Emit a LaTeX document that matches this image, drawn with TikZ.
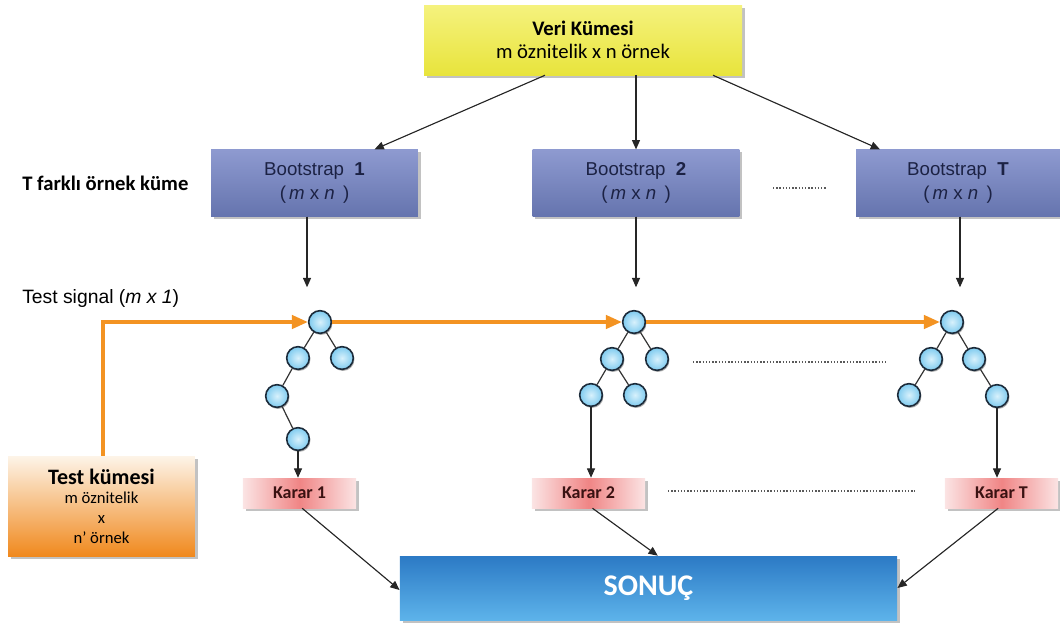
\documentclass[tikz,border=0pt]{standalone}
\usepackage{fontspec}
\setmainfont{Carlito}
\newfontfamily\arialf{Liberation Sans}
\usetikzlibrary{arrows.meta,shadows}
\definecolor{veritop}{HTML}{F5F27E}
\definecolor{veribot}{HTML}{E8E43C}
\definecolor{bstop}{HTML}{8E9AD0}
\definecolor{bsbot}{HTML}{6574AE}
\definecolor{bstext}{HTML}{1C2244}
\definecolor{kararside}{HTML}{FBE4E4}
\definecolor{kararmid}{HTML}{F08585}
\definecolor{karartext}{HTML}{3A1212}
\definecolor{testtop}{HTML}{FDF4E8}
\definecolor{testbot}{HTML}{F0891E}
\definecolor{sontop}{HTML}{2C7AC5}
\definecolor{sonbot}{HTML}{5DB3EA}
\definecolor{orangeline}{HTML}{F39322}
\definecolor{ballfill}{HTML}{7FCBEF}
\definecolor{ballin}{HTML}{D8F1FC}
\definecolor{ballline}{HTML}{1C2B3A}
\begin{document}
\begin{tikzpicture}[x=0.75pt,y=-0.75pt,
  box/.style={inner sep=0pt, align=center,
    drop shadow={shadow xshift=2pt, shadow yshift=-2pt, fill=black!40, opacity=0.6}},
  veribox/.style={box, top color=veritop, bottom color=veribot,
    minimum width=238.5pt, minimum height=52.5pt,
    font=\fontsize{15.5}{17}\selectfont},
  bsbox/.style={box, top color=bstop, bottom color=bsbot, text=bstext,
    minimum width=155pt, minimum height=50pt,
    font=\arialf\fontsize{14}{17.5}\selectfont},
  kararbox/.style={box, left color=kararside, right color=kararside, middle color=kararmid,
    text=karartext, minimum width=85pt, minimum height=22.5pt,
    font=\fontsize{13.5}{15}\selectfont\bfseries},
  testbox/.style={box, top color=testtop, bottom color=testbot,
    minimum width=140pt, minimum height=75pt,
    font=\fontsize{12.5}{14.8}\selectfont},
  sonbox/.style={box, top color=sontop, bottom color=sonbot, text=white,
    minimum width=373pt, minimum height=48pt,
    font=\fontsize{22.5}{24}\selectfont\bfseries},
  ball/.style={circle, minimum size=17pt, inner sep=0pt, draw=ballline, line width=1.2pt,
    inner color=ballin, outer color=ballfill,
    drop shadow={shadow xshift=0.8pt, shadow yshift=-1.2pt, fill=black!70, opacity=0.45}},
  tedge/.style={line width=0.9pt, draw=black!80},
  arr/.style={-{Triangle[length=7pt,width=6pt]}, line width=0.85pt, draw=black!85, fill=black!85},
  oarr/.style={-{Triangle[length=12pt,width=10pt]}, line width=2.6pt, draw=orangeline},
  dots/.style={line width=1.1pt, draw=black!65, dash pattern=on 1.1pt off 1.3pt},
  lbl/.style={anchor=west, inner sep=0pt}
]
\useasboundingbox (0,0) rectangle (1060,628);

% boxes
\node[veribox] (veri) at (583,40) {\textbf{Veri Kümesi}\\m öznitelik x n örnek};
\node[bsbox] (b1) at (314.5,183) {Bootstrap\ \ \textbf{1}\\(\,\textit{m} x \textit{n}\ \,)};
\node[bsbox] (b2) at (636,183) {Bootstrap\ \ \textbf{2}\\(\,\textit{m} x \textit{n}\ \,)};
\node[bsbox, minimum width=153pt] (b3) at (958,183) {Bootstrap\ \ \textbf{T}\\(\,\textit{m} x \textit{n}\ \,)};

\node[lbl, font=\fontsize{15.5}{17}\selectfont\bfseries] (tlab) at (22,183) {T farklı örnek küme};
\node[lbl, font=\arialf\fontsize{14.5}{16}\selectfont] (slab) at (22,298) {Test signal (\textit{m x 1})};

\node[kararbox] (k1) at (299.5,493) {Karar 1};
\node[kararbox] (k2) at (588.5,493) {Karar 2};
\node[kararbox] (k3) at (1001.5,493) {Karar T};

\node[testbox] (test) at (101.5,506) {{\fontsize{16.5}{17}\selectfont\bfseries Test kümesi}\\m öznitelik\\x\\n' örnek};
\node[sonbox] (son) at (648.5,588) {SONUÇ};

% trees
\node[ball] (t1r) at (320,322) {};
\node[ball] (t1a) at (298,358) {};
\node[ball] (t1b) at (342,358) {};
\node[ball] (t1c) at (277,396) {};
\node[ball] (t1d) at (298,439) {};

\node[ball] (t2r) at (634,322) {};
\node[ball] (t2a) at (612,359) {};
\node[ball] (t2b) at (657,359) {};
\node[ball] (t2c) at (591,395) {};
\node[ball] (t2d) at (635,395) {};

\node[ball] (t3r) at (952,322) {};
\node[ball] (t3a) at (931,359) {};
\node[ball] (t3b) at (974,359) {};
\node[ball] (t3c) at (909,395) {};
\node[ball] (t3d) at (997,396) {};

\draw[tedge] (t1r) -- (t1a); \draw[tedge] (t1r) -- (t1b);
\draw[tedge] (t1a) -- (t1c); \draw[tedge] (t1c) -- (t1d);
\draw[tedge] (t2r) -- (t2a); \draw[tedge] (t2r) -- (t2b);
\draw[tedge] (t2a) -- (t2c); \draw[tedge] (t2a) -- (t2d);
\draw[tedge] (t3r) -- (t3a); \draw[tedge] (t3r) -- (t3b);
\draw[tedge] (t3a) -- (t3c); \draw[tedge] (t3b) -- (t3d);

% arrows from data set
\draw[arr] ([xshift=-28.5pt]veri.south) -- ([xshift=45pt]b1.north);
\draw[arr] (b2.north |- veri.south) -- (b2.north);
\draw[arr] ([xshift=97.5pt]veri.south) -- ([xshift=-58.5pt]b3.north);

% arrows bootstrap -> trees
\draw[arr] ([xshift=-5.6pt]b1.south) -- ++(0pt,-53pt);
\draw[arr] (b2.south) -- ++(0pt,-53pt);
\draw[arr] ([xshift=1.5pt]b3.south) -- ++(0pt,-53pt);

% test signal
\draw[oarr] ([xshift=1.1pt]test.north) |- (t1r.west);
\draw[oarr] (t1r.east) -- (t2r.west);
\draw[oarr] (t2r.east) -- (t3r.west);

% trees -> decisions
\draw[arr] (t1d.south) -- (t1d.south |- k1.north);
\draw[arr] (t2c.south) -- (t2c.south |- k2.north);
\draw[arr] (t3d.south) -- (t3d.south |- k3.north);

% decisions -> result
\draw[arr] ([xshift=2pt]k1.south) -- ([yshift=-1.5pt]son.west);
\draw[arr] ([xshift=3pt]k2.south) -- ([xshift=7pt]son.north);
\draw[arr] ([xshift=-2.5pt]k3.south) -- ([yshift=0pt]son.east);

% ellipsis lines
\coordinate (e1a) at (773,188); \coordinate (e1b) at (826,188);
\coordinate (e2a) at (693,362); \coordinate (e2b) at (887,362);
\coordinate (e3a) at (668,491); \coordinate (e3b) at (915,491);
\draw[dots] (e1a) -- (e1b);
\draw[dots] (e2a) -- (e2b);
\draw[dots] (e3a) -- (e3b);
\end{tikzpicture}
\end{document}
